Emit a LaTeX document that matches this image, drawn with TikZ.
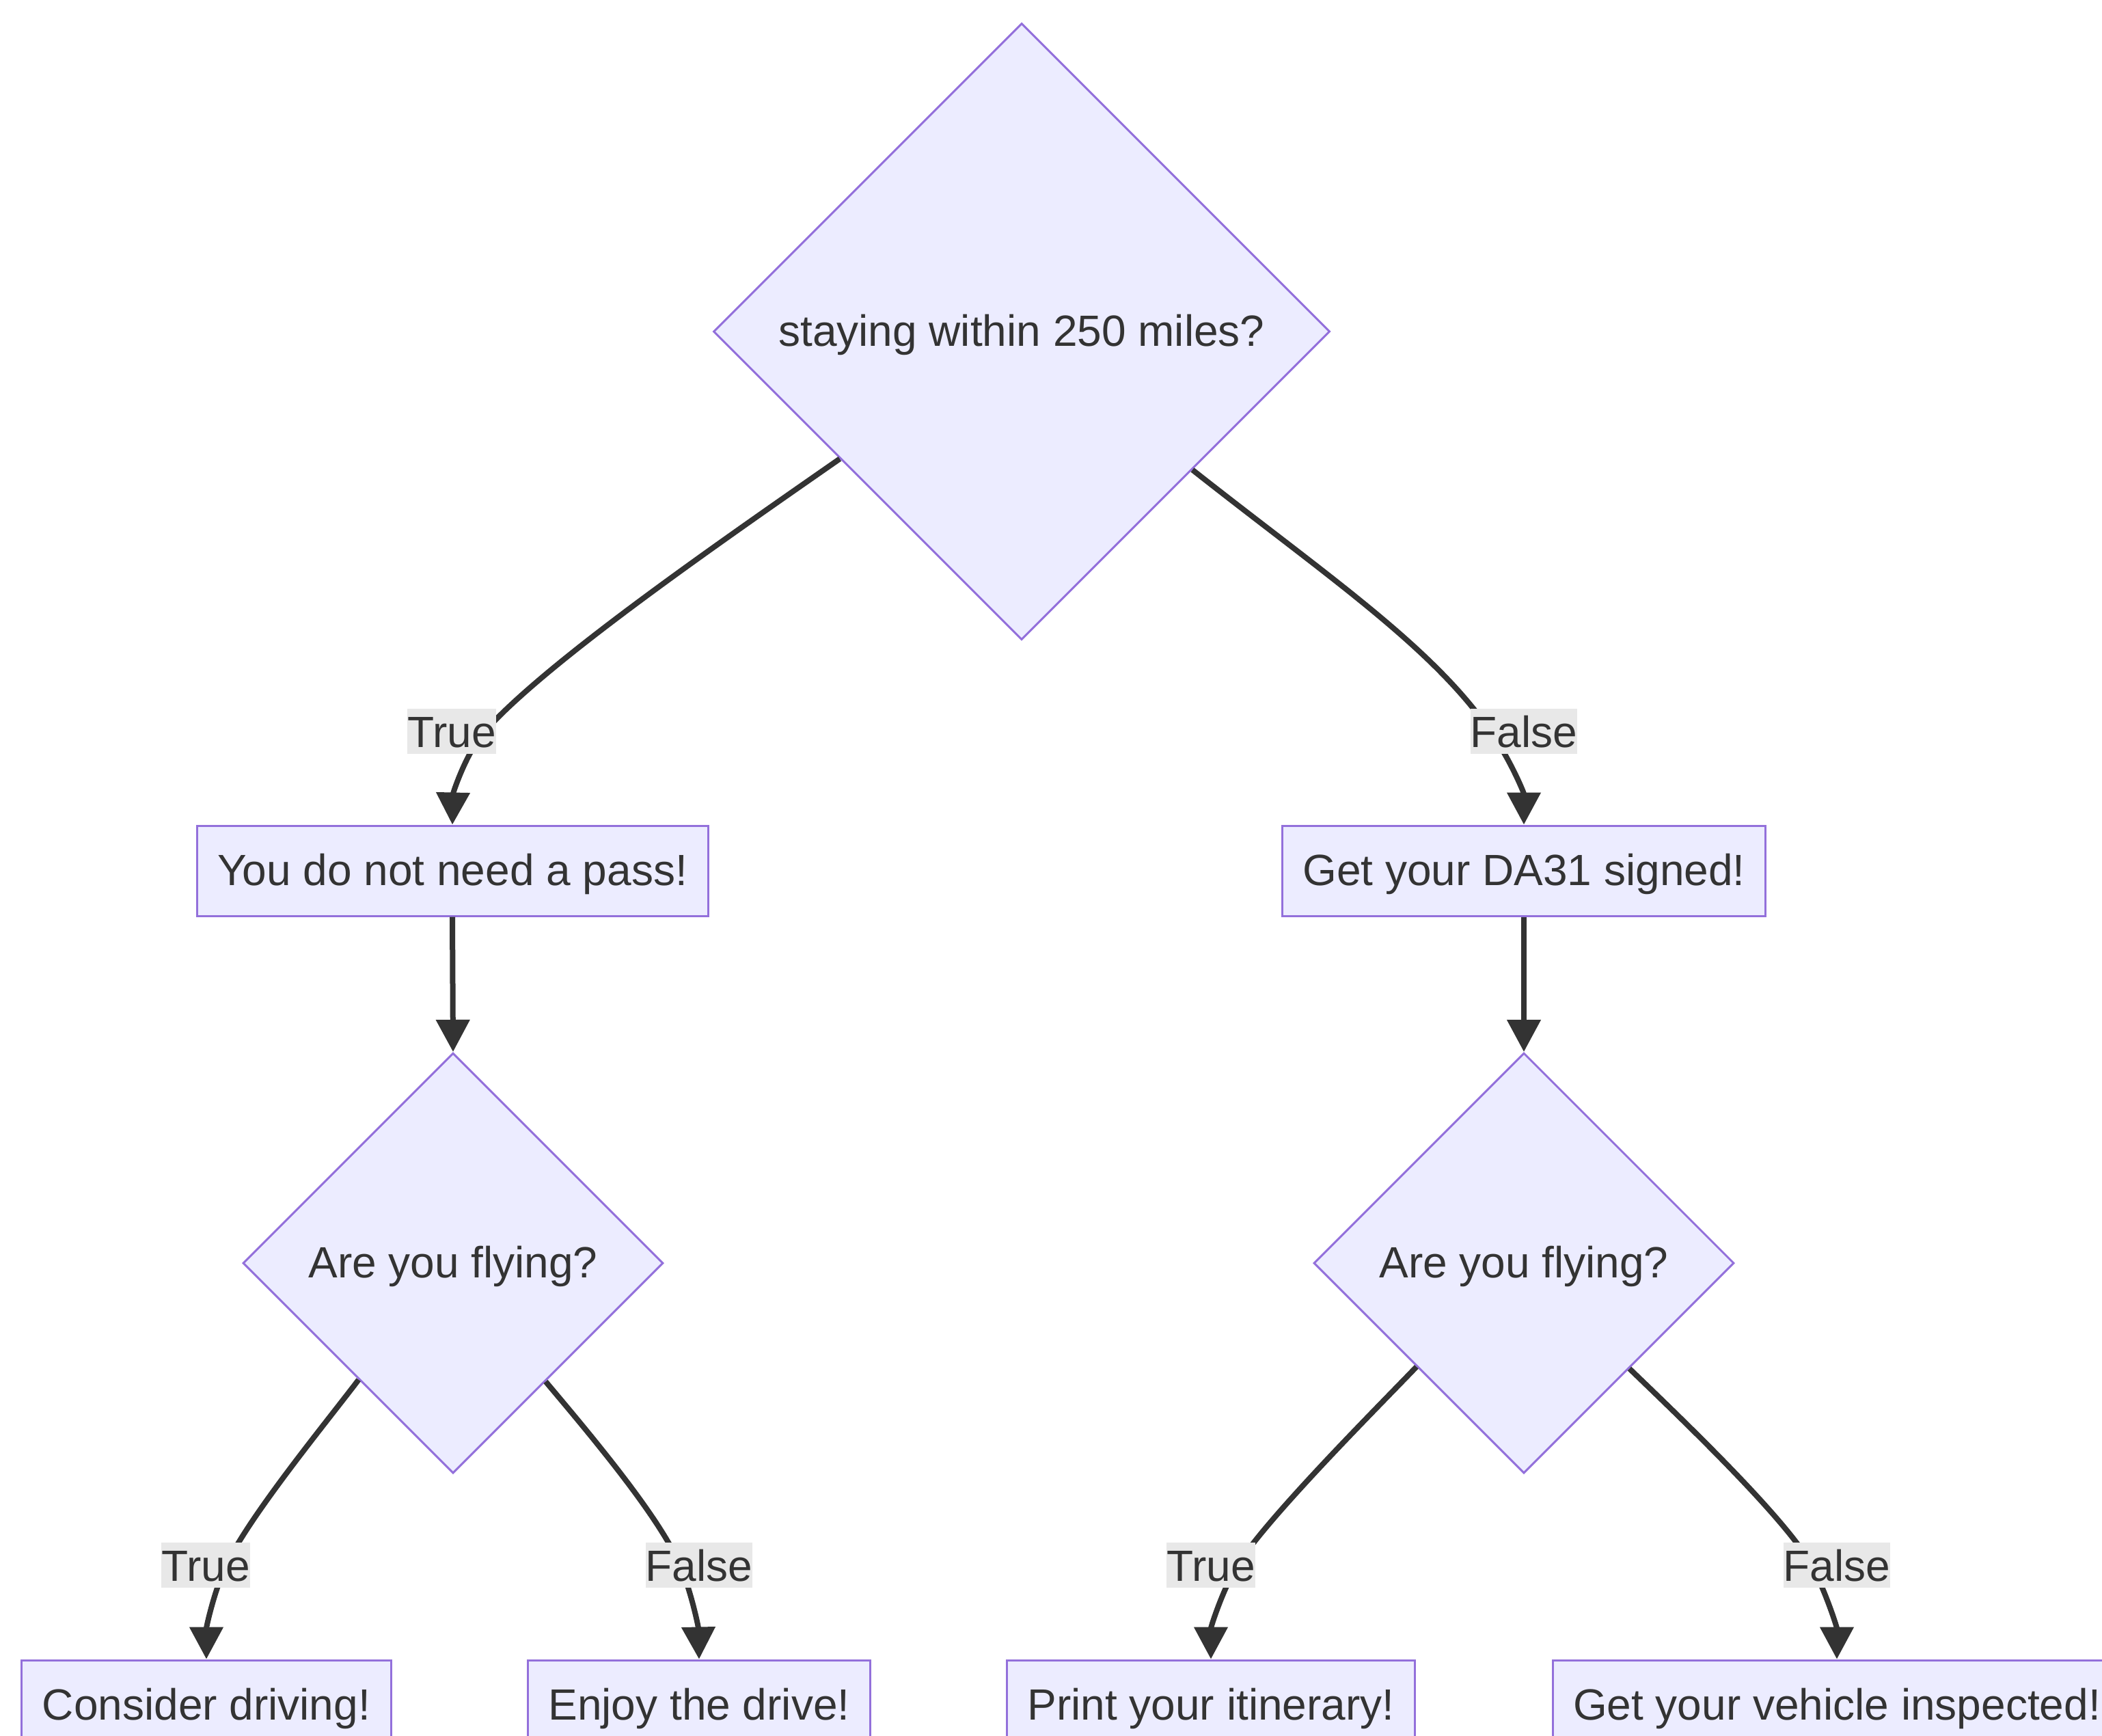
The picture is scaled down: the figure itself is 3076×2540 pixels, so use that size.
\documentclass[tikz,border=0pt]{standalone}
\usepackage{fontspec}
\setmainfont{Liberation Sans}
\usetikzlibrary{shapes.geometric,arrows.meta}
\definecolor{nodefill}{HTML}{ECECFF}
\definecolor{nodeborder}{HTML}{9370DB}
\definecolor{edgecol}{HTML}{333333}
\definecolor{lblbg}{HTML}{E8E8E8}
\definecolor{txt}{HTML}{333333}
\begin{document}
\begin{tikzpicture}[x=0.25pt,y=-0.25pt,
  base/.style={draw=nodeborder, fill=nodefill, line width=0.75pt, text=txt,
    font=\fontsize{16}{19}\selectfont, text height=10.5pt, text depth=0pt},
  box/.style={base, rectangle, minimum height=33pt, inner xsep=7.5pt, inner ysep=0pt},
  decision/.style={base, diamond, aspect=1, inner sep=0pt},
  edge/.style={draw=edgecol, line width=2pt, -{Triangle[length=11.75pt,width=12pt]}},
  lbl/.style={fill=lblbg, text=txt, font=\fontsize{16}{19}\selectfont,
    inner sep=0pt, text height=14pt, text depth=2.5pt}]

\useasboundingbox (0,0) rectangle (3076,2540);

% nodes
\node[decision, minimum width=225.5pt, minimum height=225.5pt] (q1) at (1495,485) {staying within 250 miles?};
\node[box] (a) at (662,1274) {You do not need a pass!};
\node[box] (b) at (2230,1274) {Get your DA31 signed!};
\node[decision, minimum width=153.75pt, minimum height=153.75pt] (q2) at (663,1848) {Are you flying?};
\node[decision, minimum width=153.75pt, minimum height=153.75pt] (q3) at (2230,1848) {Are you flying?};
\node[box] (c) at (302,2495) {Consider driving!};
\node[box] (d) at (1023,2495) {Enjoy the drive!};
\node[box] (e) at (1772,2495) {Print your itinerary!};
\node[box] (f) at (2688,2495) {Get your vehicle inspected!};

% edges
\draw[edge] (q1.215.6) .. controls (1041,802) and (790,976) .. (705,1075)
  .. controls (680,1108) and (663,1160) .. (a.north);
\draw[edge] (q1.321.2) .. controls (1941,842) and (2096,946) .. (2181,1070)
  .. controls (2210,1111) and (2230,1160) .. (b.north);
\draw[edge] (a.south) -- (q2.north);
\draw[edge] (b.south) -- (q3.north);
\draw[edge] (q2.231.6) .. controls (476,2083) and (365,2218) .. (331,2290)
  .. controls (314,2326) and (302,2380) .. (c.north);
\draw[edge] (q2.308.4) .. controls (850,2083) and (964,2216) .. (995,2290)
  .. controls (1011,2327) and (1022,2380) .. (d.north);
\draw[edge] (q3.224.6) .. controls (2016,2059) and (1853,2222) .. (1811,2290)
  .. controls (1790,2324) and (1772,2380) .. (e.north);
\draw[edge] (q3.315.4) .. controls (2444,2060) and (2613,2220) .. (2651,2290)
  .. controls (2670,2325) and (2688,2380) .. (f.north);

% edge labels
\node[lbl] (t1) at (661,1070) {True};
\node[lbl] (f1) at (2230,1070) {False};
\node[lbl] (t2) at (301,2290) {True};
\node[lbl] (f2) at (1023,2290) {False};
\node[lbl] (t3) at (1772,2290) {True};
\node[lbl] (f3) at (2688,2290) {False};
\end{tikzpicture}
\end{document}
